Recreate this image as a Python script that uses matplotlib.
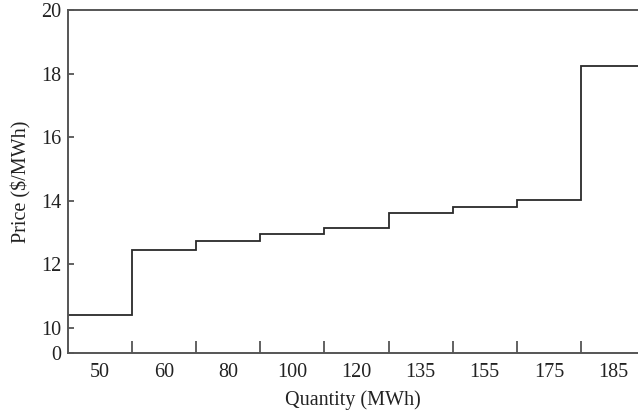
import matplotlib
matplotlib.use("Agg")
import matplotlib.pyplot as plt
import numpy as np

plt.rcParams['font.family'] = ['Liberation Serif', 'DejaVu Serif']

quantities = ["50", "60", "80", "100", "120", "135", "155", "175", "185"]
prices = [10.42, 12.46, 12.73, 12.94, 13.15, 13.60, 13.81, 14.03, 18.24]
ytick_vals = [10, 12, 14, 16, 18, 20]
y_bottom = 9.21  # axis break: the "0" label sits at the bottom of the axis

fig = plt.figure(figsize=(6.38, 4.13), dpi=100)
ax = fig.add_axes([68/638, 60/413, 1 - 68/638, (353-10)/413])

n = len(prices)
edges = np.arange(n + 1) - 0.5
ax.stairs(prices, edges, baseline=None, color='#2a2a2a', linewidth=1.3)

ax.set_xlim(-0.5, 8.39)
ax.set_ylim(y_bottom, 20)

spine_col = '#555555'
for s in ['left', 'bottom', 'top']:
    ax.spines[s].set_color(spine_col)
    ax.spines[s].set_linewidth(1.4)
ax.spines['right'].set_visible(False)

fs = 14.5
# x: labels centered in segments, ticks at boundaries
ax.set_xticks(np.arange(n))
ax.set_xticklabels(quantities)
ax.set_xticks(edges[1:-1], minor=True)
ax.tick_params(axis='x', which='major', length=0, pad=7, labelsize=fs, colors='#222222')
ax.tick_params(axis='x', which='minor', direction='in', length=9, width=1.3, color=spine_col)

ax.set_yticks([y_bottom] + ytick_vals)
ax.set_yticklabels(["0"] + [str(v) for v in ytick_vals])
ax.tick_params(axis='y', direction='in', length=4, width=1.3, color=spine_col,
               pad=5, labelsize=fs, labelcolor='#222222')

ax.set_xlabel("Quantity (MWh)", fontsize=fs, color='#222222', labelpad=6)
ax.set_ylabel("Price (\\$/MWh)", fontsize=fs, color='#222222', labelpad=7)

fig.savefig("out.png", dpi=100)
